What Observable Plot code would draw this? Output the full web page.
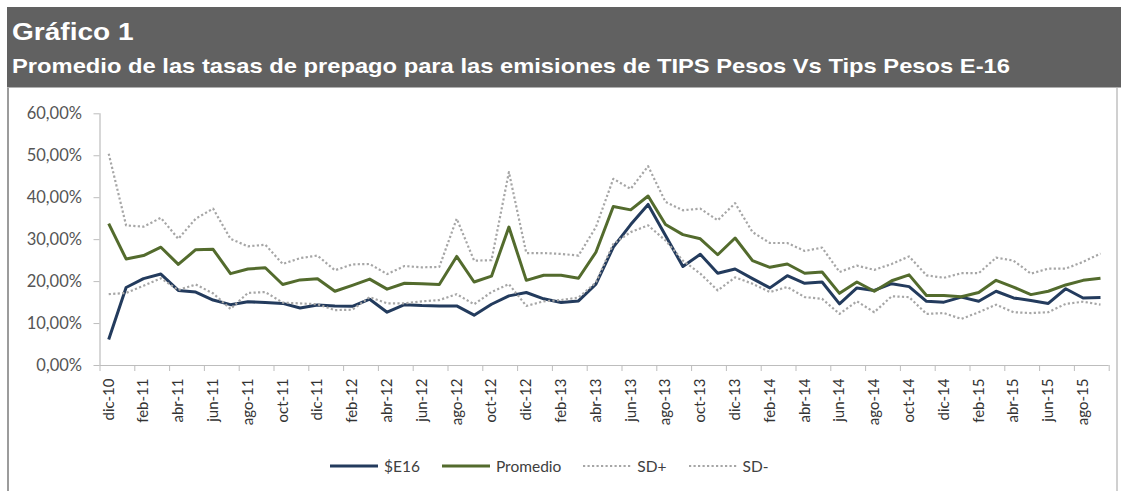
<!DOCTYPE html>
<html><head><meta charset="utf-8">
<script src="https://cdn.jsdelivr.net/npm/d3@7"></script>
<script src="https://cdn.jsdelivr.net/npm/@observablehq/plot@0.6"></script>
<style>
html,body{margin:0;padding:0;background:#fff;}
#wrap{position:relative;width:1121px;height:491px;overflow:hidden;background:#fff;}
#header{position:absolute;left:7px;top:7px;right:0;height:81px;background:#616161;color:#fff;font-family:"Liberation Sans",Arial,sans-serif;font-weight:bold;border-bottom:1px solid #b0b0b0;box-sizing:border-box;}
#t1{position:absolute;left:5px;top:12px;font-size:23px;white-space:nowrap;transform:scaleX(1.22);transform-origin:0 0;}
#t2{position:absolute;left:5px;top:47px;font-size:21px;white-space:nowrap;transform:scaleX(1.13);transform-origin:0 0;}
#frame{position:absolute;left:7px;top:88px;width:1111px;height:403px;border-left:2px solid #9c9c9c;border-right:2px solid #d0d0d0;box-sizing:border-box;}
#chart{position:absolute;left:0;top:88px;}
#legend{position:absolute;top:457px;left:330px;display:flex;align-items:center;font-family:Lato,"Open Sans",sans-serif;font-size:15.5px;color:#404040;white-space:nowrap;}
.item{display:flex;align-items:center;margin-right:22px;}
.item svg{margin-right:6px;}
</style>
</head><body>
<div id="wrap">
  <div id="header"><div id="t1">Gráfico 1</div><div id="t2">Promedio de las tasas de prepago para las emisiones de TIPS Pesos Vs Tips Pesos E-16</div></div>
  <div id="frame"></div>
  <div id="chart"></div>
  <div id="legend"></div>
</div>
<script>
const months = ["dic-10","ene-11","feb-11","mar-11","abr-11","may-11","jun-11","jul-11","ago-11","sep-11","oct-11","nov-11",
"dic-11","ene-12","feb-12","mar-12","abr-12","may-12","jun-12","jul-12","ago-12","sep-12","oct-12","nov-12",
"dic-12","ene-13","feb-13","mar-13","abr-13","may-13","jun-13","jul-13","ago-13","sep-13","oct-13","nov-13",
"dic-13","ene-14","feb-14","mar-14","abr-14","may-14","jun-14","jul-14","ago-14","sep-14","oct-14","nov-14",
"dic-14","ene-15","feb-15","mar-15","abr-15","may-15","jun-15","jul-15","ago-15","sep-15"];

const e16 = [6.2,18.6,20.7,21.8,17.9,17.5,15.6,14.5,15.2,15.0,14.8,13.7,
14.4,14.2,14.1,15.8,12.7,14.5,14.3,14.2,14.2,12.0,14.6,16.6,
17.4,15.9,15.0,15.4,19.4,28.2,33.6,38.4,31.0,23.6,26.5,22.0,
23.0,20.7,18.5,21.4,19.6,19.9,14.7,18.5,17.9,19.5,18.8,15.3,
15.1,16.3,15.3,17.7,16.1,15.5,14.8,18.3,16.1,16.2];

const promedio = [33.8,25.4,26.2,28.2,24.1,27.6,27.7,21.9,23.0,23.3,19.3,20.4,
20.7,17.7,19.1,20.6,18.2,19.6,19.5,19.3,26.0,19.9,21.3,33.0,
20.3,21.5,21.5,20.8,27.0,37.9,37.1,40.4,33.6,31.2,30.2,26.4,
30.4,25.0,23.4,24.2,22.0,22.3,17.2,19.9,17.7,20.2,21.6,16.7,
16.7,16.4,17.4,20.3,18.7,16.9,17.7,19.2,20.3,20.8];

const sdPlus = [50.5,33.4,33.1,35.2,30.2,35.0,37.4,30.2,28.4,28.8,24.2,25.6,
26.2,22.7,24.1,24.2,21.8,23.7,23.4,23.5,35.0,25.0,25.1,46.1,
26.8,26.8,26.6,26.2,33.0,44.5,42.1,47.5,39.0,37.0,37.4,34.6,
38.7,31.8,29.2,29.2,27.3,28.1,22.3,23.8,22.8,24.2,26.0,21.5,
20.9,22.0,22.0,25.7,25.0,21.9,23.1,23.1,24.7,26.7];

const sdMinus = [17.0,17.3,19.0,20.8,18.0,19.3,17.2,13.5,17.3,17.5,15.0,14.8,
14.6,13.2,13.3,16.3,14.8,14.8,15.3,15.6,17.0,14.6,17.5,19.4,
14.2,15.3,15.6,16.2,19.8,29.0,31.8,33.4,29.8,25.0,21.9,17.9,
21.0,19.5,17.5,18.7,16.3,15.9,12.3,15.3,12.7,16.5,16.3,12.3,
12.5,11.1,12.7,14.5,12.7,12.5,12.7,14.7,15.2,14.5];

const yTicks = [0,10,20,30,40,50,60];

const seriesNames = ["$E16","Promedio","SD+","SD-"];
const seriesColors = ["#233B5D","#536B2D","#A6A6A6","#A6A6A6"];
const seriesWidths = [3,3,2.2,2.2];
const seriesDash = [null,null,"2.2 2.3","2.2 2.3"];
const seriesValues = [e16,promedio,sdPlus,sdMinus];

const rows = vals => vals.map((v,i)=>({pos:i+0.5, v}));

const lineMarks = seriesValues.map((vals,k)=>Plot.line(rows(vals),{
  x:"pos", y:"v", stroke:seriesColors[k], strokeWidth:seriesWidths[k],
  strokeDasharray:seriesDash[k]||undefined, strokeLinejoin:"round", strokeLinecap:"butt"
}));

const chart = Plot.plot({
  width:1121, height:350,
  marginLeft:99.5, marginRight:12.3, marginTop:25.3, marginBottom:73,
  x:{type:"linear", domain:[0, months.length]},
  y:{domain:[0,60]},
  style:{fontFamily:"Lato, 'Open Sans', sans-serif", background:"transparent", overflow:"visible"},
  marks:[
    Plot.ruleX([0],{stroke:"#BDBDBD", strokeWidth:1.2}),
    Plot.ruleY([0],{stroke:"#BDBDBD", strokeWidth:1.2}),
    Plot.axisY({ticks:yTicks, tickFormat:d=>d.toFixed(2).replace(".",",")+"%", tickSize:6, tickPadding:12,
      stroke:"#BDBDBD", fill:"#555", fontSize:16.5, label:null}),
    Plot.axisX({ticks:d3.range(0, months.length+1, 2), tickFormat:()=>"", tickSize:6, stroke:"#BDBDBD", label:null}),
    Plot.axisX({ticks:d3.range(0, months.length, 2).map(i=>i+0.5), tickFormat:d=>months[Math.round(d-0.5)],
      tickSize:0, tickPadding:13, tickRotate:-90, fill:"#333", fontSize:15, label:null}),
    ...lineMarks
  ]
});
document.getElementById("chart").appendChild(chart);

const legend = document.getElementById("legend");
seriesNames.forEach((name,k)=>{
  const item = document.createElement("div");
  item.className = "item";
  const dash = seriesDash[k] ? ` stroke-dasharray="${seriesDash[k]}"` : "";
  item.innerHTML = `<svg width="48" height="10"><line x1="0" x2="48" y1="5" y2="5" stroke="${seriesColors[k]}" stroke-width="${seriesWidths[k]}"${dash}/></svg><span>${name}</span>`;
  legend.appendChild(item);
});
</script>
</body></html>
